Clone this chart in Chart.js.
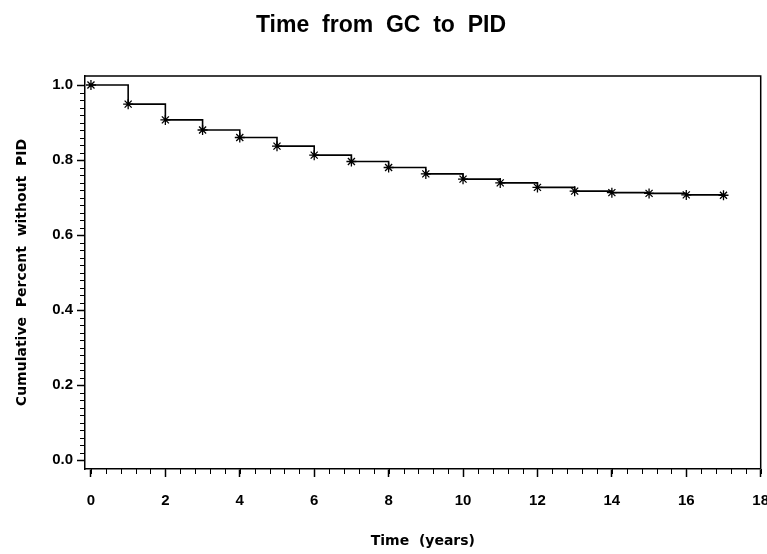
<!DOCTYPE html>
<html>
<head>
<meta charset="utf-8">
<script src="https://cdn.jsdelivr.net/npm/chart.js@4"></script>
<style>
  html, body { margin: 0; padding: 0; background: #fff; }
  #wrap { width: 767px; height: 554px; }
</style>
</head>
<body>
<div id="wrap"><canvas id="kmChart"></canvas></div>
<script>
const years = [0, 1, 2, 3, 4, 5, 6, 7, 8, 9, 10, 11, 12, 13, 14, 15, 16, 17];
const survival = [1.0, 0.949, 0.907, 0.88, 0.86, 0.837, 0.813, 0.796, 0.78, 0.763, 0.749, 0.739, 0.727, 0.717, 0.713, 0.711, 0.707, 0.706];
const xTicks = [0, 2, 4, 6, 8, 10, 12, 14, 16, 18];
const yTicks = [0.0, 0.2, 0.4, 0.6, 0.8, 1.0];

const FONT = "'Liberation Sans', Arial, sans-serif";
const WIDE = "'DejaVu Sans', sans-serif";

// minor ticks + top/right frame lines
const framePlugin = {
  id: 'frame',
  afterDraw(chart) {
    const { ctx, chartArea: a, scales: { x, y } } = chart;
    ctx.save();
    ctx.strokeStyle = '#000';
    ctx.lineWidth = 1.5;
    ctx.beginPath();
    ctx.moveTo(a.left, a.top);
    ctx.lineTo(a.right, a.top);
    ctx.lineTo(a.right, a.bottom);
    ctx.stroke();

    ctx.lineWidth = 1;
    ctx.beginPath();
    for (let k = 0; k <= 45; k++) {
      const px = Math.round(x.getPixelForValue(k * 0.4)) + 0.5;
      ctx.moveTo(px, a.bottom);
      ctx.lineTo(px, a.bottom + 5);
    }
    for (let k = 0; k <= 50; k++) {
      const py = Math.round(y.getPixelForValue(k / 50)) + 0.5;
      ctx.moveTo(a.left, py);
      ctx.lineTo(a.left - 5, py);
    }
    ctx.stroke();
    ctx.restore();
  }
};

new Chart(document.getElementById('kmChart'), {
  type: 'line',
  data: {
    datasets: [{
      data: years.map((t, i) => ({ x: t, y: survival[i] })),
      stepped: true,
      borderColor: '#000',
      borderWidth: 1.6,
      pointStyle: 'star',
      pointRadius: 5,
      pointBorderColor: '#000',
      pointBorderWidth: 1.3,
      pointBackgroundColor: '#000'
    }]
  },
  options: {
    responsive: true,
    maintainAspectRatio: false,
    animation: false,
    layout: { padding: { right: 5 } },
    plugins: {
      legend: { display: false },
      tooltip: { enabled: false },
      title: {
        display: true,
        text: 'Time  from  GC  to  PID',
        color: '#000',
        font: { family: FONT, size: 23, weight: 'bold' },
        padding: { top: 12, bottom: 36.4 }
      }
    },
    scales: {
      x: {
        type: 'linear',
        min: -0.16,
        max: 18,
        afterBuildTicks(s) { s.ticks = xTicks.map(v => ({ value: v })); },
        afterFit(s) { s.height = 85; s.paddingLeft = 0; s.paddingRight = 0; },
        ticks: {
          color: '#000',
          padding: 15,
          maxRotation: 0,
          font: { family: FONT, size: 15, weight: 'bold' },
          callback: v => String(v)
        },
        grid: { drawOnChartArea: false, tickLength: 8, tickColor: '#000', tickWidth: 1.5 },
        border: { color: '#000', width: 1.5 },
        title: {
          display: true,
          text: 'Time  (years)',
          color: '#000',
          font: { family: WIDE, size: 14, weight: 'bold' },
          padding: { top: 4, bottom: 4 }
        }
      },
      y: {
        min: -0.024,
        max: 1.024,
        afterBuildTicks(s) { s.ticks = yTicks.map(v => ({ value: v })); },
        afterFit(s) { s.width = 85; s.paddingTop = 0; s.paddingBottom = 0; },
        ticks: {
          color: '#000',
          padding: 4,
          font: { family: FONT, size: 15, weight: 'bold' },
          callback: v => v.toFixed(1)
        },
        grid: { drawOnChartArea: false, tickLength: 8, tickColor: '#000', tickWidth: 1.5 },
        border: { color: '#000', width: 1.5 },
        title: {
          display: true,
          text: 'Cumulative  Percent  without  PID',
          color: '#000',
          font: { family: WIDE, size: 14, weight: 'bold' },
          padding: { top: 14, bottom: 4 }
        }
      }
    }
  },
  plugins: [framePlugin]
});
</script>
</body>
</html>
